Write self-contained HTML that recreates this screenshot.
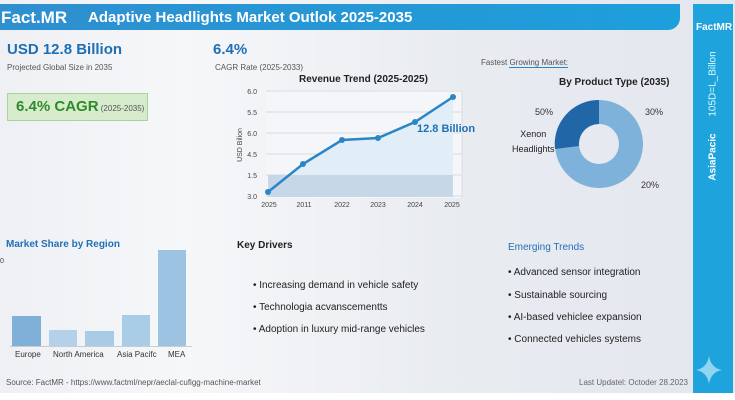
<!DOCTYPE html>
<html><head><meta charset="utf-8"><style>
body{margin:0;width:735px;height:400px;overflow:hidden;font-family:"Liberation Sans",sans-serif;background:#fff;position:relative}
.bg{position:absolute;left:0;top:0;width:735px;height:393px;background:linear-gradient(90deg,#eef0f4 0%,#f6f7f9 25%,#e9ecf1 60%,#e3e7ee 100%)}
.t{position:absolute;white-space:nowrap}
</style></head><body>
<div class="bg"></div>
<div style="position:absolute;left:0;top:4px;width:680px;height:26px;background:linear-gradient(90deg,#2f8fcf,#1d9fdc);border-radius:0 0 12px 0"></div>
<div class="t" style="left:1px;top:8px;font-size:17px;font-weight:bold;color:#fff">Fact.MR</div>
<div class="t" style="left:88px;top:9px;font-size:15px;font-weight:bold;color:#fff">Adaptive Headlights Market Outlok 2025-2035</div>
<div style="position:absolute;left:693px;top:4px;width:40px;height:389px;background:#1ea3dc"></div>
<div class="t" style="left:696px;top:22px;font-size:10px;font-weight:bold;color:#fff">FactMR</div>
<div class="t" style="left:713px;top:84px;font-size:10px;color:#dff;transform:translate(-50%,-50%) rotate(-90deg)">105D=L_Billon</div>
<div class="t" style="left:713px;top:157px;font-size:10px;font-weight:bold;color:#fff;transform:translate(-50%,-50%) rotate(-90deg)">AsiaPacic</div>
<svg style="position:absolute;left:696px;top:356px" width="26" height="28"><path d="M13 0 Q15 12 26 14 Q15 16 13 28 Q11 16 0 14 Q11 12 13 0Z" fill="#8fd6f2"/></svg>

<div class="t" style="left:7px;top:41px;font-size:15px;font-weight:bold;color:#1f6fb5">USD 12.8 Billion</div>
<div class="t" style="left:7px;top:63px;font-size:8px;color:#555">Projected Global Size in 2035</div>
<div style="position:absolute;left:7px;top:93px;width:139px;height:26px;background:#d7eccd;border:1px solid #a9d39a"></div>
<div class="t" style="left:16px;top:98px;font-size:15px;font-weight:bold;color:#2f8a2a">6.4% CAGR<span style="font-size:8px;font-weight:normal;color:#555"> (2025-2035)</span></div>
<div class="t" style="left:213px;top:41px;font-size:15px;font-weight:bold;color:#1f6fb5">6.4%</div>
<div class="t" style="left:215px;top:63px;font-size:8px;color:#555">CAGR Rate (2025-2033)</div>

<div class="t" style="left:299px;top:74px;font-size:10px;font-weight:bold;color:#222">Revenue Trend (2025-2025)</div>
<svg style="position:absolute;left:230px;top:85px" width="250" height="130">
<rect x="36" y="5" width="196" height="108" fill="#f4f6f9"/>
<g stroke="#d8dbe0" stroke-width="1">
<line x1="36" y1="6" x2="232" y2="6"/><line x1="36" y1="27" x2="232" y2="27"/><line x1="36" y1="48" x2="232" y2="48"/><line x1="36" y1="69" x2="232" y2="69"/><line x1="36" y1="90" x2="232" y2="90"/><line x1="36" y1="111" x2="232" y2="111"/><line x1="232" y1="5" x2="232" y2="113"/></g>
<polygon points="38,107 73,79 112,55 148,53 185,37 223,12 223,112 38,112" fill="#e2eef7"/>
<rect x="38" y="90" width="185" height="22" fill="#c6d8e8"/>
<polyline points="38,107 73,79 112,55 148,53 185,37 223,12" fill="none" stroke="#2a86c6" stroke-width="2.5"/>
<g fill="#2a86c6"><circle cx="38" cy="107" r="3"/><circle cx="73" cy="79" r="3"/><circle cx="112" cy="55" r="3"/><circle cx="148" cy="53" r="3"/><circle cx="185" cy="37" r="3"/><circle cx="223" cy="12" r="3"/></g>
<g font-size="7" fill="#444" font-family="Liberation Sans" text-anchor="end">
<text x="27" y="9">6.0</text><text x="27" y="30">5.5</text><text x="27" y="51">6.0</text><text x="27" y="72">4.5</text><text x="27" y="93">1.5</text><text x="27" y="114">3.0</text></g>
<g font-size="7" fill="#444" font-family="Liberation Sans" text-anchor="middle">
<text x="39" y="122">2025</text><text x="74" y="122">2011</text><text x="112" y="122">2022</text><text x="148" y="122">2023</text><text x="185" y="122">2024</text><text x="222" y="122">2025</text></g>
<text x="12" y="60" font-size="7" fill="#444" font-family="Liberation Sans" transform="rotate(-90 12 60)" text-anchor="middle">USD Bilion</text>
</svg>
<div class="t" style="left:417px;top:123px;font-size:11px;font-weight:bold;color:#1f6fb5">12.8 Billion</div>

<div class="t" style="left:481px;top:58px;font-size:8px;color:#555">Fastest <span style="border-bottom:1px solid #2a86c6">Growing Market:</span></div>
<div class="t" style="left:559px;top:77px;font-size:10px;font-weight:bold;color:#222">By Product Type (2035)</div>
<svg style="position:absolute;left:550px;top:98px" width="100" height="96">
<circle cx="49" cy="46" r="32" fill="none" stroke="#7fb2da" stroke-width="24"/>
<path d="M49 2 A44 44 0 0 0 5 51 L29 48 A20 20 0 0 1 49 26Z" fill="#2167a8"/>
</svg>
<div class="t" style="left:535px;top:107px;font-size:9px;color:#333">50%</div>
<div class="t" style="left:645px;top:107px;font-size:9px;color:#333">30%</div>
<div class="t" style="left:641px;top:180px;font-size:9px;color:#333">20%</div>
<div class="t" style="left:512px;top:127px;font-size:9px;color:#222;text-align:center;line-height:15px">Xenon<br>Headlights</div>

<div class="t" style="left:6px;top:239px;font-size:10px;font-weight:bold;color:#2170b8">Market Share by Region</div>
<div class="t" style="left:0px;top:258px;font-size:7px;color:#444">0</div>
<div style="position:absolute;left:12px;top:316px;width:29px;height:30px;background:#7fb0d8"></div>
<div style="position:absolute;left:49px;top:330px;width:28px;height:16px;background:#b3d2ea"></div>
<div style="position:absolute;left:85px;top:331px;width:29px;height:15px;background:#a8cbe6"></div>
<div style="position:absolute;left:122px;top:315px;width:28px;height:31px;background:#a9cce7"></div>
<div style="position:absolute;left:158px;top:250px;width:28px;height:96px;background:#9dc3e3"></div>
<div style="position:absolute;left:10px;top:346px;width:182px;height:1px;background:#ccc"></div>
<div class="t" style="left:15px;top:350px;font-size:8px;color:#333">Europe</div>
<div class="t" style="left:53px;top:350px;font-size:8px;color:#333">North America</div>
<div class="t" style="left:117px;top:350px;font-size:8px;color:#333">Asia Pacifc</div>
<div class="t" style="left:168px;top:350px;font-size:8px;color:#333">MEA</div>
<div class="t" style="left:6px;top:378px;font-size:8px;color:#555">Source: FactMR - https://www.factml/nepr/aeclal-cufigg-machine-market</div>

<div class="t" style="left:237px;top:240px;font-size:10px;font-weight:bold;color:#222">Key Drivers</div>
<div class="t" style="left:253px;top:280px;font-size:10px;color:#222">• Increasing demand in vehicle safety</div>
<div class="t" style="left:253px;top:302px;font-size:10px;color:#222">• Technologia acvanscementts</div>
<div class="t" style="left:253px;top:324px;font-size:10px;color:#222">• Adoption in luxury mid-range vehicles</div>

<div class="t" style="left:508px;top:242px;font-size:10px;color:#2170b8">Emerging Trends</div>
<div class="t" style="left:508px;top:267px;font-size:10px;color:#222">• Advanced sensor integration</div>
<div class="t" style="left:508px;top:290px;font-size:10px;color:#222">• Sustainable sourcing</div>
<div class="t" style="left:508px;top:312px;font-size:10px;color:#222">• AI-based vehiclee expansion</div>
<div class="t" style="left:508px;top:334px;font-size:10px;color:#222">• Connected vehicles systems</div>
<div class="t" style="left:579px;top:378px;font-size:8px;color:#666">Last Updatel: Octoder 28.2023</div>
</body></html>
